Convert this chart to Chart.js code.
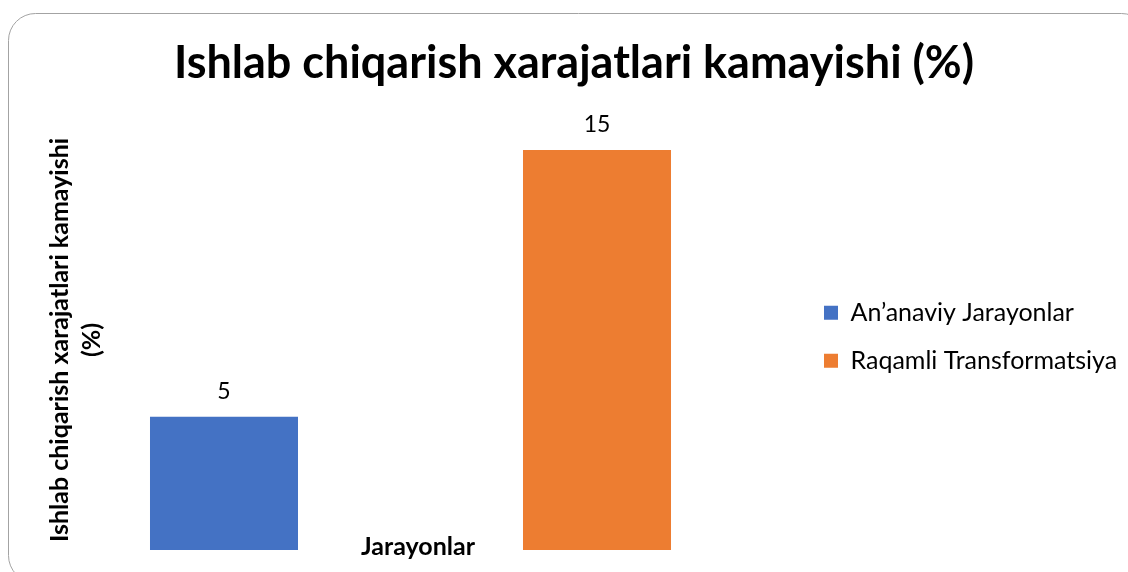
<!DOCTYPE html>
<html>
<head>
<meta charset="utf-8">
<script src="https://cdn.jsdelivr.net/npm/chart.js@4/dist/chart.umd.min.js"></script>
<style>
  html, body { margin: 0; padding: 0; background: #ffffff; }
  #wrap { position: relative; width: 1128px; height: 572px; }
</style>
</head>
<body>
<div id="wrap"><canvas id="xarajat-chart"></canvas></div>
<script>
var categories = ['Jarayonlar'];
var series_names = ['An\u2019anaviy Jarayonlar', 'Raqamli Transformatsiya'];
var ananaviy_values = [5];
var raqamli_values = [15];
var chart_title = 'Ishlab chiqarish xarajatlari kamayishi (%)';
var y_title_lines = ['Ishlab chiqarish xarajatlari kamayishi', '(%)'];
var x_title = 'Jarayonlar';

var chart_blue = '#4472C4';
var chart_orange = '#ED7D31';

Chart.defaults.font.family = 'Lato, "Open Sans", sans-serif';
Chart.defaults.color = '#000000';

// rounded frame like the office chart box
var frame_plugin = {
  id: 'frame',
  beforeDraw: function(chart) {
    var c = chart.ctx;
    c.save();
    c.fillStyle = '#ffffff';
    c.fillRect(0, 0, chart.width, chart.height);
    c.beginPath();
    c.roundRect(8.5, 13.5, 1140, 569, 27);
    c.strokeStyle = '#a3a3a3';
    c.lineWidth = 1;
    c.stroke();
    c.restore();
  }
};

// value labels above the bars, axis titles placed by hand
var labels_plugin = {
  id: 'labels',
  afterDatasetsDraw: function(chart) {
    var c = chart.ctx;
    c.save();
    c.font = '23px Lato';
    c.fillStyle = '#000000';
    c.textAlign = 'center';
    c.textBaseline = 'middle';
    chart.data.datasets.forEach(function(ds, i) {
      chart.getDatasetMeta(i).data.forEach(function(bar, j) {
        c.fillText(String(ds.data[j]), bar.x, bar.y - 25);
      });
    });
    c.restore();
  },
  afterDraw: function(chart) {
    var c = chart.ctx;
    c.save();
    c.font = 'bold 25px Lato';
    c.fillStyle = '#000000';
    c.textAlign = 'center';
    c.textBaseline = 'middle';
    c.fillText(x_title, 418, 547);
    c.translate(76, 340);
    c.rotate(-Math.PI / 2);
    c.fillText(y_title_lines[0], 0, -16);
    c.fillText(y_title_lines[1], 0, 16);
    c.restore();
  }
};

var ctx = document.getElementById('xarajat-chart').getContext('2d');
var chart = new Chart(ctx, {
  type: 'bar',
  data: {
    labels: categories,
    datasets: [
      {
        label: series_names[0],
        data: ananaviy_values,
        backgroundColor: chart_blue,
        borderWidth: 0,
        categoryPercentage: 0.9552,
        barPercentage: 0.3968
      },
      {
        label: series_names[1],
        data: raqamli_values,
        backgroundColor: chart_orange,
        borderWidth: 0,
        categoryPercentage: 0.9552,
        barPercentage: 0.3968
      }
    ]
  },
  options: {
    responsive: true,
    maintainAspectRatio: false,
    animation: false,
    layout: {
      padding: { top: 20, bottom: 22, left: 20, right: 0 }
    },
    scales: {
      x: { display: false },
      y: { display: false, min: 0, max: 16 }
    },
    plugins: {
      title: {
        display: true,
        text: chart_title,
        color: '#000000',
        font: { size: 45, weight: 'bold' },
        padding: { top: 16, bottom: 33.3 }
      },
      legend: {
        position: 'right',
        fullSize: false,
        align: 'center',
        labels: {
          boxWidth: 14,
          boxHeight: 14,
          padding: 23,
          color: '#000000',
          font: { size: 25 }
        }
      },
      tooltip: { enabled: false }
    }
  },
  plugins: [frame_plugin, labels_plugin, {
    beforeInit(chart) {
      const originalFit = chart.legend.fit;
      chart.legend.fit = function fit() {
        originalFit.bind(chart.legend)();
        this.width = 327;
      }
    }
  }]
});
</script>
</body>
</html>
